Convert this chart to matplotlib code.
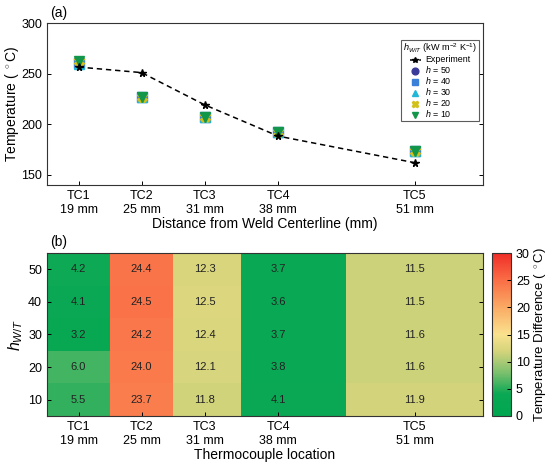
import matplotlib
matplotlib.use("Agg")
import matplotlib.pyplot as plt
import numpy as np
from matplotlib.colors import LinearSegmentedColormap

plt.rcParams['font.family'] = ['Liberation Sans', 'DejaVu Sans']
plt.rcParams['mathtext.fontset'] = 'custom'
plt.rcParams['mathtext.rm'] = 'Liberation Sans'
plt.rcParams['mathtext.it'] = 'Liberation Sans:italic'

# ---- data ----
tc_labels = ["TC1\n19 mm", "TC2\n25 mm", "TC3\n31 mm", "TC4\n38 mm", "TC5\n51 mm"]
distance_mm = [19, 25, 31, 38, 51]
cell_edges_mm = [16, 22, 28, 34.5, 44.5, 57.5]
experiment = [256.5, 251.0, 219.2, 188.3, 162.0]
h_values = [50, 40, 30, 20, 10]
sim_h50 = [260.7, 226.6, 206.9, 192.0, 173.5]
sim_h40 = [260.6, 226.5, 206.7, 191.9, 173.5]
sim_h30 = [259.7, 226.8, 206.8, 192.0, 173.6]
sim_h20 = [262.5, 227.0, 207.1, 192.1, 173.6]
sim_h10 = [262.0, 227.3, 207.4, 192.4, 173.9]
diff_rows_h = [10, 20, 30, 40, 50]
diff_h10 = [5.5, 23.7, 11.8, 4.1, 11.9]
diff_h20 = [6.0, 24.0, 12.1, 3.8, 11.6]
diff_h30 = [3.2, 24.2, 12.4, 3.7, 11.6]
diff_h40 = [4.1, 24.5, 12.5, 3.6, 11.5]
diff_h50 = [4.2, 24.4, 12.3, 3.7, 11.5]

fig = plt.figure(figsize=(5.5, 4.63), dpi=100)
W, H = 550, 463
def ax_rect(l, t, r, b):
    return [l / W, 1 - b / H, (r - l) / W, (b - t) / H]

TICK_FS = 9
LABEL_FS = 10

# ---- top panel ----
ax1 = fig.add_axes(ax_rect(47, 23, 483, 185))
sims = [sim_h50, sim_h40, sim_h30, sim_h20, sim_h10]
styles = [("o", "#3a3a9a"), ("s", "#3a7fd8"), ("^", "#20b8d8"), ("X", "#d4c01a"), ("v", "#12964a")]
ax1.plot(distance_mm, experiment, "--", color="black", marker="*", markersize=5.5, lw=1.1,
         dashes=(3.5, 2.5), label="Experiment", zorder=5)
for h, s, (m, c) in zip(h_values, sims, styles):
    ax1.plot(distance_mm, s, ls="none", marker=m, color=c, markersize=6.5, label=f"$h$ = {h}", zorder=3)
ax1.set_xlim(16, 57.5)
ax1.set_ylim(140, 300)
ax1.set_xticks(distance_mm)
ax1.set_xticklabels(tc_labels)
ax1.set_yticks([150, 200, 250, 300])
ax1.tick_params(direction="in", top=False, right=True, labelsize=TICK_FS, length=3, width=0.7)
ax1.set_ylabel("Temperature ( $^\\circ$C)", fontsize=LABEL_FS)
ax1.yaxis.set_label_coords((21 - 47) / 436, 0.5)
ax1.set_xlabel("Distance from Weld Centerline (mm)", fontsize=LABEL_FS, labelpad=1)
for sp in ax1.spines.values():
    sp.set_color("#333333")
leg = ax1.legend(title="$h_{W/T}$ (kW m$^{-2}$ K$^{-1}$)", loc="upper right",
                 bbox_to_anchor=(0.991, 0.895), fontsize=6.4, title_fontsize=6.6,
                 frameon=True, fancybox=False, edgecolor="#333333", handlelength=1.2,
                 handletextpad=0.5, labelspacing=0.0, borderpad=0.2, markerscale=0.75,
                 borderaxespad=0, handleheight=0.6)
leg.get_frame().set_linewidth(0.8)
leg._legend_box.sep = 0
fig.text(50 / W, 1 - 13 / H, "(a)", fontsize=10, va="center", ha="left")

# ---- bottom panel ----
ax2 = fig.add_axes(ax_rect(47, 253, 483, 416))
cmap = LinearSegmentedColormap.from_list("gyr", [
    (0.0, (0 / 255, 166 / 255, 80 / 255)),
    (4 / 30, (10 / 255, 168 / 255, 84 / 255)),
    (8 / 30, (125 / 255, 192 / 255, 110 / 255)),
    (12 / 30, (214 / 255, 212 / 255, 124 / 255)),
    (15 / 30, (250 / 255, 226 / 255, 142 / 255)),
    (20 / 30, (250 / 255, 170 / 255, 100 / 255)),
    (25 / 30, (250 / 255, 110 / 255, 70 / 255)),
    (1.0, (240 / 255, 45 / 255, 40 / 255)),
])
Z = np.array([diff_h10, diff_h20, diff_h30, diff_h40, diff_h50])
y_edges = [5, 15, 25, 35, 45, 55]
mesh = ax2.pcolormesh(cell_edges_mm, y_edges, Z, cmap=cmap, vmin=0, vmax=30)
for i, h in enumerate(diff_rows_h):
    for j, x in enumerate(distance_mm):
        ax2.text(x, h, f"{Z[i, j]:.1f}", ha="center", va="center", fontsize=8, color="#222222")
ax2.set_xlim(16, 57.5)
ax2.set_ylim(5, 55)
ax2.set_xticks(distance_mm)
ax2.set_xticklabels(tc_labels)
ax2.set_yticks([10, 20, 30, 40, 50])
ax2.tick_params(direction="in", right=True, labelsize=TICK_FS, length=3, width=0.7)
ax2.set_ylabel("$h_{W/T}$", fontsize=11.5)
ax2.yaxis.set_label_coords((25 - 47) / 436, 0.5)
ax2.set_xlabel("Thermocouple location", fontsize=LABEL_FS, labelpad=1)
for sp in ax2.spines.values():
    sp.set_color("#333333")
fig.text(50 / W, 1 - 242 / H, "(b)", fontsize=10, va="center", ha="left")

cax = fig.add_axes(ax_rect(492, 253, 511, 416))
cb = fig.colorbar(mesh, cax=cax)
cb.set_ticks([0, 5, 10, 15, 20, 25, 30])
cb.ax.tick_params(direction="in", labelsize=TICK_FS, length=3, width=0.7)
cb.outline.set_edgecolor("#333333")
cb.set_label("Temperature Difference ( $^\\circ$C)", fontsize=9.5)
cb.ax.yaxis.set_label_coords((532 - 492) / 19, 0.5)

fig.savefig("out.png", dpi=100)
